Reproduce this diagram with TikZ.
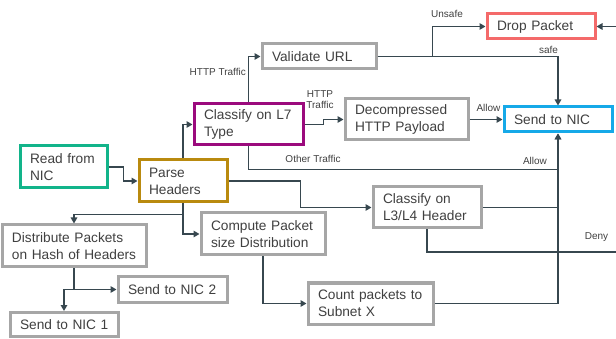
\documentclass[tikz,border=0pt]{standalone}
\usepackage{fontspec}
\setmainfont{Liberation Sans}
\usetikzlibrary{arrows.meta,calc}
\definecolor{cgreen}{HTML}{12B48A}
\definecolor{cgold}{HTML}{B98A0F}
\definecolor{cmag}{HTML}{9B0A7D}
\definecolor{cred}{HTML}{F46A6A}
\definecolor{ccyan}{HTML}{16A9E8}
\definecolor{cgray}{HTML}{A6A6A6}
\definecolor{cline}{HTML}{37474F}
\definecolor{ctext}{HTML}{404040}
\tikzset{
  box/.style={draw=#1, line width=3pt, rectangle, fill=white, align=left,
    inner xsep=10pt, inner ysep=2pt, text=ctext,
    font=\fontsize{13.7}{17}\selectfont},
  line/.style={draw=cline, line width=1.8pt},
  conn/.style={line, -{Triangle[length=6pt,width=6.5pt]}},
  lbl/.style={text=ctext, font=\fontsize{10}{11}\selectfont, inner sep=0pt, align=center}
}
\newcommand{\nb}[1]{\mbox{#1}}
\newcommand{\bx}[6]{\node[box=#1, text width=#2pt-20pt, minimum height=#3pt] (#4) at (#5) {#6};}
\begin{document}
\begin{tikzpicture}[x=1pt,y=-1pt]
\useasboundingbox (0,0) rectangle (616,339);
\bx{cgreen}{87}{42}{read}{63.5,167}{\nb{Read from}\\\nb{NIC}}
\bx{cgold}{88}{42}{parse}{183,181}{\nb{Parse}\\\nb{Headers}}
\bx{cmag}{109}{41}{lseven}{248.5,124.5}{\nb{Classify on L7}\\\nb{Type}}
\bx{cgray}{114}{25}{val}{319,56.5}{\nb{Validate URL}}
\bx{cred}{108}{25}{drop}{541,26.5}{\nb{Drop Packet}}
\bx{cgray}{123}{41}{dec}{406.5,119.5}{\nb{Decompressed}\\\nb{HTTP Payload}}
\bx{ccyan}{108}{25}{nic}{558,119.5}{\nb{Send to NIC}}
\bx{cgray}{108}{41}{lthree}{427,207.5}{\nb{Classify on}\\\nb{L3/L4 Header}}
\bx{cgray}{124}{42}{comp}{263,234}{\nb{Compute Packet}\\\nb{size Distribution}}
\bx{cgray}{125}{41}{count}{370.5,303.5}{\nb{Count packets to}\\\nb{Subnet X}}
\bx{cgray}{144}{42}{dist}{74,246}{\nb{Distribute Packets}\\\nb{on Hash of Headers}}
\bx{cgray}{109}{25}{nictwo}{172.5,289.5}{\nb{Send to NIC 2}}
\bx{cgray}{108}{24}{nicone}{64,324.5}{\nb{Send to NIC 1}}
\coordinate (edgedeny) at (618,252);
\coordinate (edgedrop) at (618,26.5);
% connectors
\draw[conn] (read.east) -- ++(15,0) |- (parse.west);
\draw[conn] (parse.north) |- (lseven.west);
\draw[conn] (lseven.north) |- (val.west);
\draw[conn] (lseven.east) -- ++(19,0) |- (dec.west);
\draw[conn] (lseven.south) -- ++(0,23) -| (nic.south);
\draw[conn] (val.east) -- ++(55,0) |- (drop.west);
\draw[conn] (val.east) -| (nic.north);
\draw[conn] (dec.east) -- (nic.west);
\draw[conn] (parse.east) -- ++(72,0) |- (lthree.west);
\draw[conn] (parse.south) -- ++(0,11) -| (dist.north);
\draw[conn] (parse.south) |- (comp.west);
\draw[conn] (dist.south) |- (nictwo.west);
\draw[conn] (dist.south |- nictwo.west) -| (nicone.north);
\draw[conn] (comp.south) |- (count.west);
\draw[conn] (count.east) -| (nic.south);
\draw[line] (lthree.east) -- (lthree.east -| nic.south);
\draw[line] (lthree.south) |- (edgedeny);
\draw[conn] (edgedrop) -- (drop.east);
% labels
\node[lbl, anchor=east] (lhttp) at (246,72) {HTTP Traffic};
\node[lbl] (lhttptwo) at (320,100) {HTTP\\Traffic};
\node[lbl] (lother) at (313,159) {Other Traffic};
\node[lbl] (lallowb) at (535,161) {Allow};
\node[lbl] (lunsafe) at (447,14) {Unsafe};
\node[lbl] (lsafe) at (548.5,50) {safe};
\node[lbl] (lallowt) at (488.5,108) {Allow};
\node[lbl] (ldeny) at (596.5,237) {Deny};
\end{tikzpicture}
\end{document}
